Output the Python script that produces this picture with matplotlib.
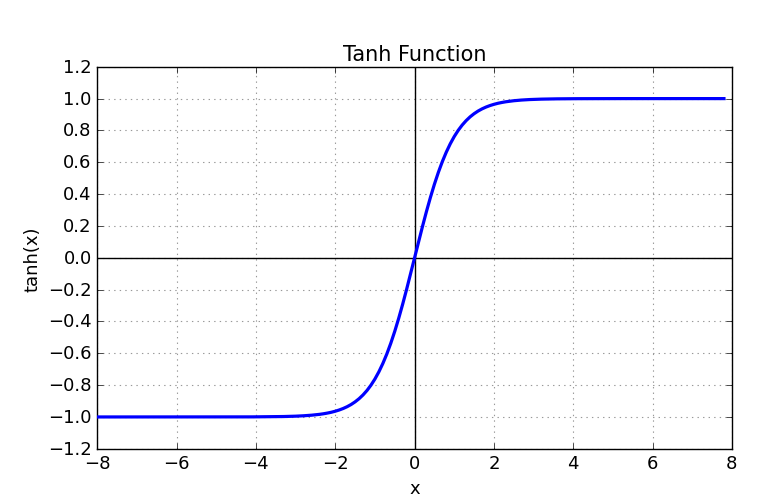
import numpy as np
import matplotlib
matplotlib.use('Agg')
from matplotlib import pyplot as plt

plt.style.use('classic')

# 横轴采样点 (-8 ~ 7.8, 步长 0.1)
x = np.linspace(-8, 7.8, 159)
# tanh 值: 左半段 (-8 ~ -0.1)
y_left = [-1.0] * 30 + [
    -0.9999, -0.9999, -0.9999, -0.9998, -0.9998, -0.9998, -0.9997, -0.9996, -0.9996, -0.9995,
    -0.9993, -0.9992, -0.9990, -0.9988, -0.9985, -0.9982, -0.9978, -0.9973, -0.9967, -0.9959,
    -0.9951, -0.9940, -0.9926, -0.9910, -0.9890, -0.9866, -0.9837, -0.9801, -0.9757, -0.9705,
    -0.9640, -0.9562, -0.9468, -0.9354, -0.9217, -0.9051, -0.8854, -0.8617, -0.8337, -0.8005,
    -0.7616, -0.7163, -0.6640, -0.6044, -0.5370, -0.4621, -0.3799, -0.2913, -0.1974, -0.0997]
# 右半段 (0 ~ 7.8)
y_right = [
    0.0, 0.0997, 0.1974, 0.2913, 0.3799, 0.4621, 0.5370, 0.6044, 0.6640, 0.7163,
    0.7616, 0.8005, 0.8337, 0.8617, 0.8854, 0.9051, 0.9217, 0.9354, 0.9468, 0.9562,
    0.9640, 0.9705, 0.9757, 0.9801, 0.9837, 0.9866, 0.9890, 0.9910, 0.9926, 0.9940,
    0.9951, 0.9959, 0.9967, 0.9973, 0.9978, 0.9982, 0.9985, 0.9988, 0.9990, 0.9992,
    0.9993, 0.9995, 0.9996, 0.9996, 0.9997, 0.9998, 0.9998, 0.9998, 0.9999, 0.9999,
    0.9999] + [1.0] * 28
y = y_left + y_right

fig = plt.figure(figsize=(7.6, 5.02), dpi=100, facecolor='white')
ax = fig.add_subplot(111)
fig.subplots_adjust(left=0.128, right=0.963, top=0.865, bottom=0.104)

ax.set_axisbelow(True)
ax.grid(True, linestyle=':', color='#999999', linewidth=0.8)
ax.axhline(0, color='black', linewidth=1, zorder=2)
ax.axvline(0, color='black', linewidth=1, zorder=2)
ax.plot(x, y, color='blue', linewidth=2.3, zorder=3)

ax.set_xlim(-8, 8)
ax.set_ylim(-1.2, 1.2)
ax.set_yticks(np.arange(-1.2, 1.21, 0.2))

ax.set_title('Tanh Function', fontsize=15)
ax.set_xlabel('x', fontsize=13)
ax.set_ylabel('tanh(x)', fontsize=13)
ax.tick_params(labelsize=13)

plt.savefig('out.png', dpi=100, facecolor='white')
